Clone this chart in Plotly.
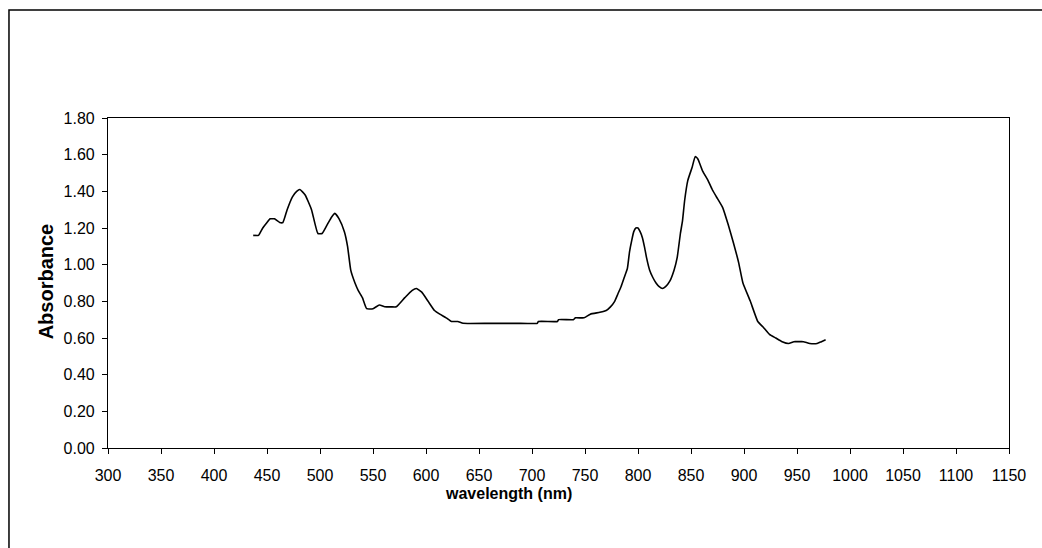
import plotly.graph_objects as go

# Absorbance spectrum
wavelength_nm = [
    437, 442, 446, 450, 453, 457, 462, 465, 469, 474, 478, 481, 486, 492, 498,
    502, 507, 511, 514, 518, 523, 526, 529, 533, 536, 540, 544, 550, 556, 561,
    567, 572, 580, 587, 591, 596, 602, 608, 613, 619, 624, 630, 635, 660, 685,
    705, 706, 724, 725, 739, 741, 749, 755, 764, 770, 774, 778, 781, 784, 787,
    790, 792, 794, 796, 798, 800, 802, 804, 806, 808, 811, 814, 817, 820, 823,
    826, 830, 834, 837, 840, 842, 844, 847, 851, 854, 856, 857, 861, 866, 870,
    875, 880, 885, 890, 895, 899, 906, 913, 918, 924, 930, 936, 942, 947, 951,
    956, 962, 969, 973, 977,
]
absorbance = [
    1.16, 1.16, 1.20, 1.23, 1.25, 1.25, 1.23, 1.23, 1.30, 1.37, 1.40, 1.41, 1.38, 1.30, 1.17,
    1.17, 1.22, 1.26, 1.28, 1.25, 1.18, 1.10, 0.97, 0.90, 0.86, 0.82, 0.76, 0.76, 0.78, 0.77,
    0.77, 0.77, 0.82, 0.86, 0.87, 0.85, 0.80, 0.75, 0.73, 0.71, 0.69, 0.69, 0.68, 0.68, 0.68,
    0.68, 0.69, 0.69, 0.70, 0.70, 0.71, 0.71, 0.73, 0.74, 0.75, 0.77, 0.80, 0.84, 0.88, 0.93,
    0.98, 1.07, 1.13, 1.18, 1.20, 1.20, 1.18, 1.15, 1.10, 1.04, 0.97, 0.93, 0.90, 0.88, 0.87,
    0.88, 0.91, 0.97, 1.04, 1.17, 1.24, 1.35, 1.46, 1.53, 1.59, 1.58, 1.57, 1.51, 1.46, 1.41,
    1.36, 1.31, 1.22, 1.12, 1.01, 0.90, 0.80, 0.69, 0.66, 0.62, 0.60, 0.58, 0.57, 0.58, 0.58,
    0.58, 0.57, 0.57, 0.58, 0.59,
]

x_ticks = list(range(300, 1151, 50))
y_ticks = [0.0, 0.2, 0.4, 0.6, 0.8, 1.0, 1.2, 1.4, 1.6, 1.8]

FONT = "Liberation Sans, Arial, sans-serif"

fig = go.Figure()
fig.add_trace(go.Scatter(
    x=wavelength_nm, y=absorbance, mode="lines",
    line=dict(color="black", width=1.6, shape="spline", smoothing=0.4),
    showlegend=False, hoverinfo="x+y",
))

axis_common = dict(
    showgrid=False, zeroline=False, showline=True, linecolor="black",
    linewidth=1.2, mirror=True, ticks="outside", ticklen=5, tickwidth=1,
    tickcolor="black", tickfont=dict(family=FONT, size=16, color="black"),
)

fig.update_layout(
    width=1042, height=548,
    margin=dict(l=108, r=33, t=118, b=100),
    paper_bgcolor="white", plot_bgcolor="white",
    font=dict(family=FONT, color="black"),
    xaxis=dict(range=[300, 1150], tickvals=x_ticks,
               ticklabelstandoff=8, **axis_common),
    yaxis=dict(range=[0, 1.8], tickvals=y_ticks, tickformat=".2f",
               ticklabelstandoff=4, **axis_common),
    annotations=[
        dict(text="<b>wavelength (nm)</b>", xref="paper", yref="paper",
             x=0.445, y=-0.139, showarrow=False,
             font=dict(family=FONT, size=16, color="black"),
             xanchor="center", yanchor="middle"),
        dict(text="<b>Absorbance</b>", xref="paper", yref="paper",
             x=-0.0688, y=0.505, showarrow=False, textangle=-90,
             font=dict(family=FONT, size=20, color="black"),
             xanchor="center", yanchor="middle"),
    ],
    shapes=[
        # chart-area frame
        dict(type="rect", xref="paper", yref="paper",
             x0=-0.1099, x1=1.05, y0=-0.32, y1=1.327,
             line=dict(color="black", width=1.5), layer="above"),
    ],
)

fig.write_html("out.html")
